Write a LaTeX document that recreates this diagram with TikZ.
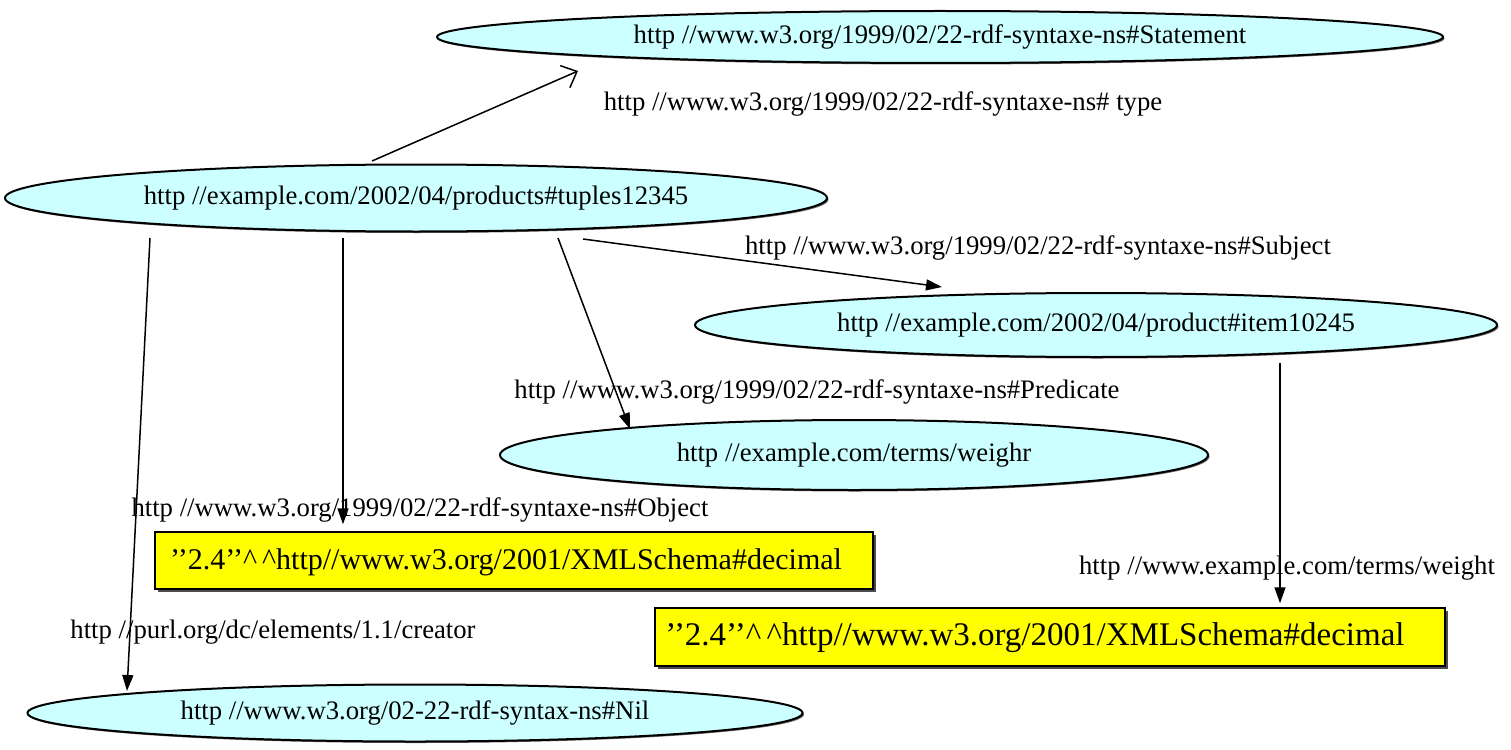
\documentclass[tikz,border=0pt]{standalone}
\usepackage{fontspec}
\setmainfont{Liberation Serif}
\usetikzlibrary{arrows.meta,shapes.geometric,shadows,calc}
\definecolor{ellfill}{HTML}{CCFFFF}
\definecolor{boxfill}{HTML}{FFFF00}
\begin{document}
\begin{tikzpicture}[x=1pt,y=-1pt,
  ell/.style={ellipse,draw=black,line width=2pt,fill=ellfill,inner sep=0pt,
    font=\fontsize{26.7}{30}\selectfont,
    drop shadow={shadow xshift=1.5pt,shadow yshift=-1.5pt,fill=black!60,opacity=1}},
  litbox/.style={rectangle,draw=black,line width=1.5pt,fill=boxfill,inner sep=0pt,
    drop shadow={shadow xshift=3pt,shadow yshift=-3pt,fill=black!70,opacity=1}},
  lbl/.style={inner sep=0pt,font=\fontsize{26.7}{30}\selectfont},
  arr/.style={line width=1.5pt,-{Triangle[length=16pt,width=11pt]}},
  openarr/.style={line width=1.5pt,-{Straight Barb[length=13pt,width=24pt,line width=1.5pt]}}
]
\useasboundingbox[fill=white] (0,0) rectangle (1511,749);

\node[ell,minimum width=1006pt,minimum height=52pt] (st) at (940,37) {http //www.w3.org/1999/02/22-rdf-syntaxe-ns\#Statement};
\node[ell,minimum width=822pt,minimum height=67pt] (tu) at (416,198) {http //example.com/2002/04/products\#tuples12345};
\node[ell,minimum width=802pt,minimum height=64pt] (it) at (1096,325) {http //example.com/2002/04/product\#item10245};
\node[ell,minimum width=708pt,minimum height=70pt] (we) at (854,455) {http //example.com/terms/weighr};
\node[ell,minimum width=775pt,minimum height=57pt] (nil) at (415,713) {http //www.w3.org/02-22-rdf-syntax-ns\#Nil};

\node[litbox,minimum width=718pt,minimum height=57pt] (b1) at (514,560.5) {};
\node[font=\fontsize{30}{34}\selectfont,inner sep=0pt] (b1t) at (506,562) {’’2.4’’\textasciicircum\,\textasciicircum http//www.w3.org/2001/XMLSchema\#decimal};
\node[litbox,minimum width=790pt,minimum height=58pt] (b2) at (1050,637) {};
\node[font=\fontsize{33}{37}\selectfont,inner sep=0pt] (b2t) at (1035,638) {’’2.4’’\textasciicircum\,\textasciicircum http//www.w3.org/2001/XMLSchema\#decimal};

\node[lbl] (l1) at (883,104) {http //www.w3.org/1999/02/22-rdf-syntaxe-ns\# type};
\node[lbl] (l2) at (1038,248) {http //www.w3.org/1999/02/22-rdf-syntaxe-ns\#Subject};
\node[lbl] (l3) at (817,392) {http //www.w3.org/1999/02/22-rdf-syntaxe-ns\#Predicate};
\node[lbl] (l4) at (420,510) {http //www.w3.org/1999/02/22-rdf-syntaxe-ns\#Object};
\node[lbl] (l5) at (273,632) {http //purl.org/dc/elements/1.1/creator};
\node[lbl] (l6) at (1287,568) {http //www.example.com/terms/weight};

\draw[openarr] ([xshift=-44pt,yshift=2.5pt]tu.north) -- ([xshift=-362pt,yshift=-7pt]st.south);
\draw[arr] ([xshift=167pt,yshift=-6.5pt]tu.south) -- ([xshift=-154pt,yshift=5pt]it.north);
\draw[arr] ([xshift=142pt,yshift=-5.5pt]tu.south) -- ([xshift=-224pt,yshift=-10pt]we.north);
\draw[arr] ([xshift=-73pt,yshift=-5pt]tu.south) -- ([xshift=-171pt,yshift=7pt]b1.north);
\draw[arr] ([xshift=-266pt,yshift=-5.5pt]tu.south) -- ([xshift=-288pt,yshift=-7.5pt]nil.north);
\draw[arr] ([xshift=184pt,yshift=-5pt]it.south) -- ([xshift=230pt,yshift=4pt]b2.north);
\end{tikzpicture}
\end{document}
